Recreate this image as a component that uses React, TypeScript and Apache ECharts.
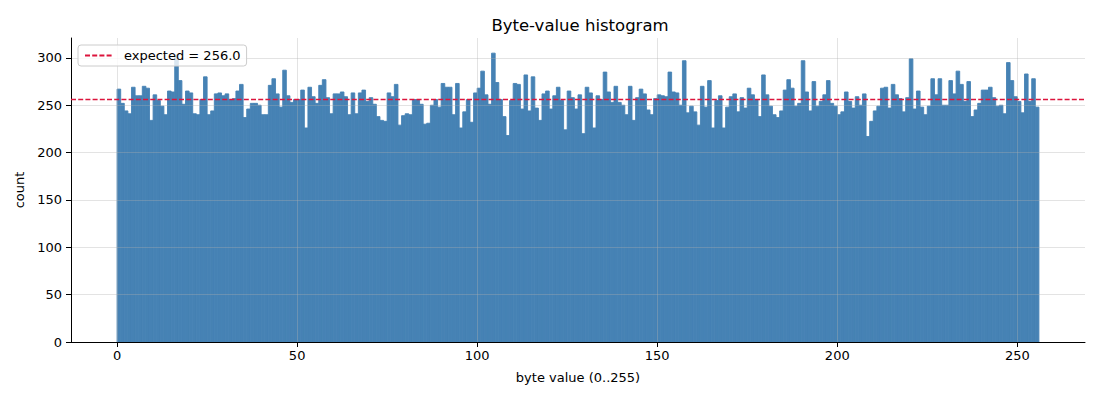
import React, { useEffect, useRef } from "react";
import * as echarts from "echarts";

const counts: number[] = [
  267, 252, 244, 241, 269, 260, 260, 270, 268, 234, 261, 255, 249, 240, 265, 264,
  303, 276, 251, 265, 263, 241, 240, 256, 280, 240, 244, 262, 263, 260, 262, 256,
  257, 265, 272, 237, 246, 252, 252, 250, 240, 240, 271, 278, 262, 248, 287, 260,
  253, 256, 256, 266, 226, 269, 259, 252, 271, 277, 258, 241, 262, 262, 264, 259,
  240, 263, 241, 263, 266, 254, 258, 251, 238, 234, 233, 263, 259, 272, 229, 239,
  241, 240, 256, 256, 251, 230, 231, 250, 256, 248, 273, 269, 269, 240, 273, 226,
  243, 256, 232, 263, 268, 286, 261, 251, 305, 274, 256, 238, 218, 255, 273, 272,
  246, 282, 244, 280, 247, 234, 262, 265, 246, 260, 269, 255, 224, 265, 258, 246,
  261, 220, 269, 263, 226, 260, 256, 285, 264, 253, 270, 253, 250, 240, 270, 234,
  258, 267, 262, 245, 240, 257, 261, 260, 259, 285, 264, 263, 250, 297, 242, 249,
  243, 229, 270, 248, 276, 226, 255, 260, 226, 248, 259, 262, 243, 258, 247, 268,
  261, 256, 238, 282, 261, 249, 240, 237, 244, 266, 277, 268, 249, 252, 297, 264,
  244, 275, 249, 254, 261, 276, 252, 249, 240, 243, 264, 254, 247, 259, 250, 262,
  217, 233, 244, 249, 268, 269, 247, 272, 261, 257, 243, 258, 299, 246, 265, 248,
  240, 249, 278, 261, 278, 250, 250, 276, 262, 286, 272, 254, 275, 238, 245, 252,
  266, 266, 269, 258, 249, 250, 241, 295, 276, 259, 254, 242, 283, 254, 278, 248,
];

const expected = 256.0;
const xTicks: number[] = [0, 50, 100, 150, 200, 250];
const yTicks: number[] = [0, 50, 100, 150, 200, 250, 300];
const xMin = -12.8;
const xMax = 268.8;
const yMax = 321;

const FONT = "DejaVu Sans";
const GRID_COLOR = "rgba(176,176,176,0.35)";

export default function App() {
  const ref = useRef<HTMLDivElement>(null);

  useEffect(() => {
    document.body.style.margin = "0";
    if (!ref.current) return;
    const chart = echarts.init(ref.current, undefined, { renderer: "svg" });

    const barData = counts.map((v, i) => [i, v]);
    const legendName = `expected = ${expected.toFixed(1)}`;

    chart.setOption({
      animation: false,
      backgroundColor: "#ffffff",
      textStyle: { fontFamily: FONT },
      title: {
        text: "Byte-value histogram",
        left: 575,
        top: 12,
        textAlign: "center",
        textStyle: { fontFamily: FONT, fontSize: 16.5, fontWeight: "normal", color: "#000" },
      },
      legend: {
        data: [legendName],
        left: 78,
        top: 45,
        orient: "vertical",
        padding: [4, 6, 4, 6],
        itemWidth: 28,
        itemHeight: 12,
        itemStyle: { opacity: 0 },
        backgroundColor: "rgba(255,255,255,0.8)",
        borderColor: "#cccccc",
        borderWidth: 1,
        borderRadius: 3,
        textStyle: { fontFamily: FONT, fontSize: 13, color: "#000", padding: [0, 0, 0, 6] },
      },
      grid: { left: 71, right: 15, top: 38, bottom: 58, containLabel: false },
      xAxis: {
        type: "value",
        min: xMin,
        max: xMax,
        z: 3,
        name: "byte value (0..255)",
        nameLocation: "middle",
        nameGap: 29,
        nameTextStyle: { fontFamily: FONT, fontSize: 13, color: "#000" },
        axisLine: { show: true, onZero: false, lineStyle: { color: "#000", width: 1 } },
        axisTick: { show: true, length: 5, customValues: xTicks, lineStyle: { color: "#000", width: 1 } },
        axisLabel: {
          show: true,
          customValues: xTicks,
          margin: 7,
          fontFamily: FONT,
          fontSize: 13,
          color: "#000",
        },
        splitLine: {
          show: true,
          showMinLine: true,
          showMaxLine: true,
          lineStyle: { color: GRID_COLOR, width: 1 },
        },
      },
      yAxis: {
        type: "value",
        min: 0,
        max: yMax,
        interval: 50,
        z: 3,
        name: "count",
        nameLocation: "middle",
        nameGap: 42,
        nameTextStyle: { fontFamily: FONT, fontSize: 13, color: "#000" },
        axisLine: { show: true, onZero: false, lineStyle: { color: "#000", width: 1 } },
        axisTick: { show: true, length: 5, customValues: yTicks, lineStyle: { color: "#000", width: 1 } },
        axisLabel: {
          show: true,
          customValues: yTicks,
          margin: 9,
          fontFamily: FONT,
          fontSize: 13,
          color: "#000",
        },
        splitLine: {
          show: true,
          showMinLine: false,
          showMaxLine: true,
          lineStyle: { color: GRID_COLOR, width: 1 },
        },
      },
      series: [
        {
          type: "custom",
          name: "bytes",
          data: barData,
          encode: { x: 0, y: 1 },
          z: 2,
          renderItem: (params: any, api: any) => {
            const i = api.value(0);
            const v = api.value(1);
            const p0 = api.coord([i, v]);
            const p1 = api.coord([i + 1, 0]);
            return {
              type: "rect",
              shape: { x: p0[0], y: p0[1], width: p1[0] - p0[0], height: p1[1] - p0[1] },
              style: { fill: "#4682b4", stroke: "#4682b4", lineWidth: 0.9 },
            };
          },
        },
        {
          type: "line",
          name: legendName,
          data: [
            [xMin, expected],
            [xMax, expected],
          ],
          symbol: "none",
          z: 5,
          color: "#dc143c",
          lineStyle: { color: "#dc143c", width: 1.5, type: [5, 2.2] },
        },
      ],
    });

    return () => {
      chart.dispose();
    };
  }, []);

  return <div ref={ref} style={{ width: 1100, height: 400 }} />;
}
